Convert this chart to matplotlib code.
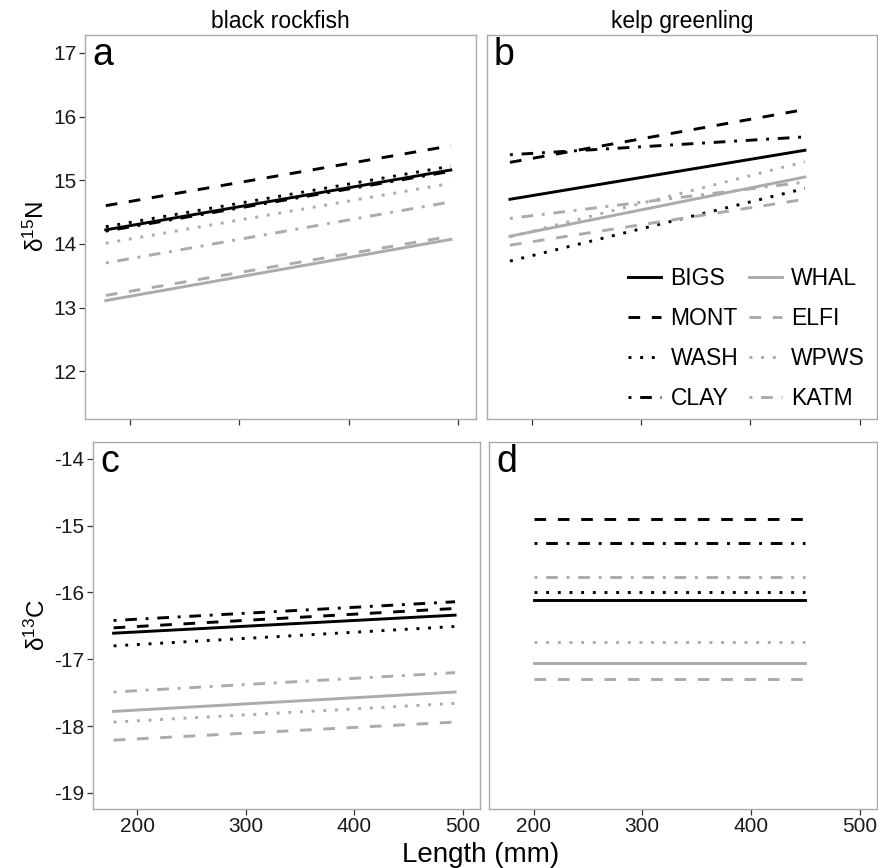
import matplotlib
matplotlib.use('Agg')
import matplotlib.pyplot as plt

plt.rcParams['font.family'] = ['Liberation Sans', 'DejaVu Sans']
plt.rcParams['mathtext.default'] = 'regular'

sites = ['BIGS', 'MONT', 'WASH', 'CLAY', 'WHAL', 'ELFI', 'WPWS', 'KATM']
site_colors = ['black'] * 4 + ['#ababab'] * 4
site_styles = ['solid', (0, (4, 4)), (0, (1, 3)), (0, (1, 3, 4, 3))] * 2

# fitted lines: length range and values at both ends
len_rockfish = [178, 493]
len_greenling = [180, 450]
len_greenling_c = [200, 450]

n15_rockfish = {
    'BIGS': [14.22, 15.16], 'MONT': [14.60, 15.54], 'WASH': [14.27, 15.22],
    'CLAY': [14.20, 15.14], 'WHAL': [13.11, 14.07], 'ELFI': [13.19, 14.12],
    'WPWS': [14.01, 14.95], 'KATM': [13.70, 14.66],
}
n15_greenling = {
    'BIGS': [14.70, 15.47], 'MONT': [15.28, 16.11], 'WASH': [13.73, 14.87],
    'CLAY': [15.40, 15.68], 'WHAL': [14.12, 15.05], 'ELFI': [13.98, 14.70],
    'WPWS': [14.11, 15.29], 'KATM': [14.40, 14.97],
}
c13_rockfish = {
    'BIGS': [-16.61, -16.34], 'MONT': [-16.53, -16.24], 'WASH': [-16.80, -16.51],
    'CLAY': [-16.42, -16.14], 'WHAL': [-17.78, -17.49], 'ELFI': [-18.21, -17.94],
    'WPWS': [-17.94, -17.66], 'KATM': [-17.49, -17.20],
}
c13_greenling = {
    'BIGS': -16.12, 'MONT': -14.90, 'WASH': -16.00, 'CLAY': -15.26,
    'WHAL': -17.05, 'ELFI': -17.30, 'WPWS': -16.74, 'KATM': -15.77,
}

W, H = 879, 868
fig = plt.figure(figsize=(W / 100, H / 100), dpi=100)

def box(x0, y0, x1, y1):
    return [x0 / W, 1 - y1 / H, (x1 - x0) / W, (y1 - y0) / H]

ax_a = fig.add_axes(box(85, 35, 476, 419))
ax_b = fig.add_axes(box(487, 35, 877, 419))
ax_c = fig.add_axes(box(93, 442, 480, 809))
ax_d = fig.add_axes(box(489, 442, 877, 809))

lw = 2.1
for i, s in enumerate(sites):
    kw = dict(color=site_colors[i], linestyle=site_styles[i], lw=lw)
    ax_a.plot(len_rockfish, n15_rockfish[s], **kw)
    ax_b.plot(len_greenling, n15_greenling[s], label=s, **kw)
    ax_c.plot(len_rockfish, c13_rockfish[s], **kw)
    ax_d.plot(len_greenling_c, [c13_greenling[s]] * 2, **kw)

for ax in [ax_a, ax_b, ax_c, ax_d]:
    ax.set_xlim(159, 516)
    ax.set_xticks([200, 300, 400, 500])
    for sp in ax.spines.values():
        sp.set_color('#aaaaaa')
        sp.set_linewidth(1.0)
    ax.tick_params(length=4, width=0.9, color='#333333', labelsize=15,
                   labelcolor='#1a1a1a', pad=2)

for ax in [ax_a, ax_b]:
    ax.set_ylim(11.25, 17.28)
    ax.set_yticks([12, 13, 14, 15, 16, 17])
    ax.tick_params(labelbottom=False)
for ax in [ax_c, ax_d]:
    ax.set_ylim(-19.24, -13.75)
    ax.set_yticks([-19, -18, -17, -16, -15, -14])
for ax in [ax_b, ax_d]:
    ax.tick_params(left=False, labelleft=False)

ax_c.set_yticklabels(['-19', '-18', '-17', '-16', '-15', '-14'])

ax_a.set_title('black rockfish', fontsize=16.5, pad=5)
ax_b.set_title('kelp greenling', fontsize=16.5, pad=5)

ax_a.set_ylabel(r'δ$^{15}$N', fontsize=17.5, labelpad=3)
ax_c.set_ylabel(r'δ$^{13}$C', fontsize=17.5, labelpad=3)

for ax, letter in zip([ax_a, ax_b, ax_c, ax_d], 'abcd'):
    ax.text(0.018, 0.995, letter, transform=ax.transAxes, fontsize=27,
            va='top', ha='left')

fig.text(481 / W, 1 - 855 / H, 'Length (mm)', fontsize=20, ha='center', va='center')

ax_b.legend(ncol=2, loc='center', bbox_to_anchor=(0.665, 0.21), frameon=False,
            fontsize=16.5, handlelength=1.45, handletextpad=0.4, columnspacing=0.45,
            labelspacing=0.74)

fig.savefig('out.png', dpi=100)
